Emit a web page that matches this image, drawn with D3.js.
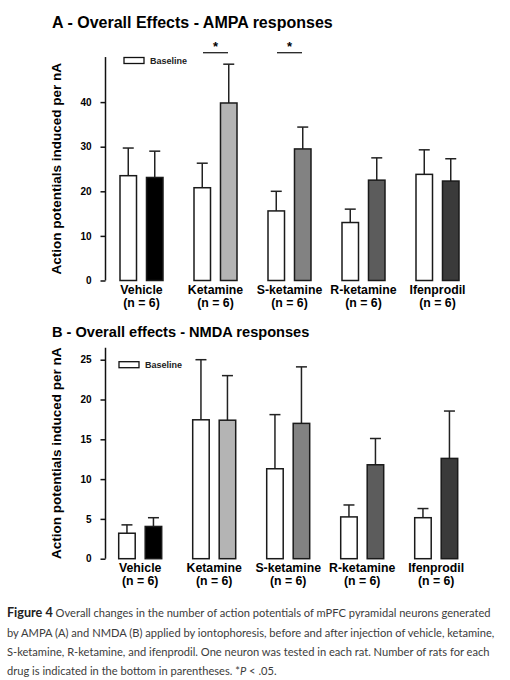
<!DOCTYPE html>
<html>
<head>
<meta charset="utf-8">
<script src="https://cdn.jsdelivr.net/npm/d3@7"></script>
<style>
  body { margin: 0; background: #fff; }
  svg text { font-family: "Liberation Sans", Arial, sans-serif; }
  .axis text { font-size: 10px; font-weight: bold; }
  .cap { font-family: Lato, "Noto Sans", sans-serif; fill: #3c3c3c; }
</style>
</head>
<body>
<div id="chart"></div>
<script>
// drug groups
var drugs = ["Vehicle", "Ketamine", "S-ketamine", "R-ketamine", "Ifenprodil"];
var nLabels = ["(n = 6)", "(n = 6)", "(n = 6)", "(n = 6)", "(n = 6)"];
var drugColors = ["#000000", "#b4b4b4", "#828282", "#5c5c5c", "#3a3a3a"];

// A - AMPA (mean, mean + error)
var ampaBase = [23.5, 20.8, 15.6, 13.0, 23.8];
var ampaBaseErr = [29.7, 26.3, 20.0, 16.0, 29.3];
var ampaDrug = [23.1, 39.8, 29.5, 22.5, 22.3];
var ampaDrugErr = [29.0, 48.5, 34.4, 27.5, 27.3];
var ampaTicks = [0, 10, 20, 30, 40];
var ampaSig = ["Ketamine", "S-ketamine"];

// B - NMDA
var nmdaBase = [3.2, 17.45, 11.3, 5.25, 5.15];
var nmdaBaseErr = [4.25, 25.0, 18.1, 6.75, 6.3];
var nmdaDrug = [4.05, 17.4, 17.0, 11.8, 12.6];
var nmdaDrugErr = [5.15, 23.0, 24.1, 15.1, 18.55];
var nmdaTicks = [0, 5, 10, 15, 20, 25];

var svg = d3.select("#chart").append("svg")
    .attr("width", 510)
    .attr("height", 680);

function panel(opt) {
    var g = svg.append("g");

    // title
    g.append("text")
        .attr("x", 52).attr("y", opt.titleY)
        .attr("font-size", opt.titleSize).attr("font-weight", "bold")
        .text(opt.title);

    // group step 74px, group width 43px
    var x = d3.scaleBand()
        .domain(drugs)
        .range([opt.x0, opt.x0 + 74 * 4 + 43])
        .paddingInner(31 / 74).paddingOuter(0);

    var y = d3.scaleLinear()
        .domain([0, opt.yMax])
        .range([opt.h, opt.h - opt.pxPerUnit * opt.yMax]);

    var inner = d3.scaleBand()
        .domain(["base", "drug"])
        .range([0, x.bandwidth()])
        .paddingInner(0.377);

    // y axis: line to the top, ticks only at labels
    g.append("line")
        .attr("x1", 105.5).attr("x2", 105.5)
        .attr("y1", y(0)).attr("y2", y(opt.yMax))
        .attr("stroke", "#111").attr("stroke-width", 1.5);

    var yAxis = d3.axisLeft(y).tickValues(opt.ticks).tickSize(5).tickPadding(9);
    g.append("g")
        .attr("class", "axis y")
        .attr("transform", "translate(105.5,0)")
        .call(yAxis)
        .call(function (a) {
            a.select(".domain").remove();
            a.selectAll("line").attr("stroke", "#111").attr("stroke-width", 1.5);
        });

    // y label
    g.append("text")
        .attr("transform", "translate(61," + (y(0) + y(opt.yMax)) / 2 + ") rotate(-90)")
        .attr("text-anchor", "middle")
        .attr("font-size", 13.5).attr("font-weight", "bold")
        .text("Action potentials induced per nA");

    // bars
    var rows = drugs.map(function (d, i) {
        return [
            { drug: d, key: "base", v: opt.base[i], e: opt.baseErr[i], fill: "#fff" },
            { drug: d, key: "drug", v: opt.drug[i], e: opt.drugErr[i], fill: drugColors[i] }
        ];
    });
    var flat = [].concat.apply([], rows);

    var bw = inner.bandwidth();
    var bar = g.selectAll(".bar").data(flat).enter().append("g").attr("class", "bar")
        .attr("transform", function (d) { return "translate(" + (x(d.drug) + inner(d.key)) + ",0)"; });

    // error bars (upper only)
    bar.append("line")
        .attr("x1", bw / 2).attr("x2", bw / 2)
        .attr("y1", function (d) { return y(d.v); })
        .attr("y2", function (d) { return y(d.e); })
        .attr("stroke", "#222").attr("stroke-width", 1.5);
    bar.append("line")
        .attr("x1", bw / 2 - 5.5).attr("x2", bw / 2 + 5.5)
        .attr("y1", function (d) { return y(d.e); })
        .attr("y2", function (d) { return y(d.e); })
        .attr("stroke", "#222").attr("stroke-width", 1.5);

    bar.append("rect")
        .attr("x", 0).attr("width", bw)
        .attr("y", function (d) { return y(d.v); })
        .attr("height", function (d) { return y(0) - y(d.v); })
        .attr("fill", function (d) { return d.fill; })
        .attr("stroke", "#1a1a1a").attr("stroke-width", 1.5);

    // category labels
    var lab = g.selectAll(".cat").data(drugs).enter().append("text")
        .attr("class", "cat")
        .attr("text-anchor", "middle")
        .attr("font-size", 12.3).attr("font-weight", "bold")
        .attr("x", function (d) { return x(d) + x.bandwidth() / 2; })
        .attr("y", y(0) + 13.5);
    lab.append("tspan").text(function (d) { return d; });
    lab.append("tspan")
        .attr("x", function (d) { return x(d) + x.bandwidth() / 2; })
        .attr("dy", 13.2)
        .text(function (d, i) { return nLabels[i]; });

    // legend
    g.append("rect")
        .attr("x", opt.legX).attr("y", opt.legY)
        .attr("width", 20).attr("height", 6)
        .attr("fill", "#fff").attr("stroke", "#111").attr("stroke-width", 1.3);
    g.append("text")
        .attr("x", opt.legX + 26).attr("y", opt.legY + 6)
        .attr("font-size", 9).attr("font-weight", "bold")
        .attr("fill", "#222")
        .text("Baseline");

    // significance markers
    (opt.sig || []).forEach(function (d) {
        var cx = x(d) + x.bandwidth() / 2;
        g.append("line")
            .attr("x1", cx - 12.5).attr("x2", cx + 12.5)
            .attr("y1", opt.sigY).attr("y2", opt.sigY)
            .attr("stroke", "#222").attr("stroke-width", 1.3);
        g.append("text")
            .attr("x", cx).attr("y", opt.sigY - 2)
            .attr("text-anchor", "middle")
            .attr("font-size", 13).attr("font-weight", "bold")
            .text("*");
    });
}

panel({
    titleY: 27.5, titleSize: 16, title: "A - Overall Effects - AMPA responses",
    h: 280.5, x0: 120, yMax: 50.1, pxPerUnit: 4.46,
    ticks: ampaTicks,
    base: ampaBase, baseErr: ampaBaseErr, drug: ampaDrug, drugErr: ampaDrugErr,
    legX: 124, legY: 57.5, sig: ampaSig, sigY: 52.7
});

panel({
    titleY: 336.5, titleSize: 14.6, title: "B - Overall effects - NMDA responses",
    h: 558.7, x0: 118.7, yMax: 26.5, pxPerUnit: 7.96,
    ticks: nmdaTicks,
    base: nmdaBase, baseErr: nmdaBaseErr, drug: nmdaDrug, drugErr: nmdaDrugErr,
    legX: 119, legY: 361.7, sig: [], sigY: 0
});

// caption
var capLines = [
    [["Figure 4", true], [" Overall changes in the number of action potentials of mPFC pyramidal neurons generated", false]],
    [["by AMPA (A) and NMDA (B) applied by iontophoresis, before and after injection of vehicle, ketamine,", false]],
    [["S-ketamine, R-ketamine, and ifenprodil. One neuron was tested in each rat. Number of rats for each", false]],
    [["drug is indicated in the bottom in parentheses. *", false], ["P", "i"], [" < .05.", false]]
];
var capY = [617, 636.5, 655.5, 674.5];
var capTexts = capLines.map(function (line, i) {
    var t = svg.append("text").attr("class", "cap").attr("x", 7).attr("y", capY[i])
        .attr("font-size", 12);
    line.forEach(function (s) {
        var sp = t.append("tspan").text(s[0]);
        if (s[1] === true) sp.attr("font-weight", "bold").attr("fill", "#222").attr("font-size", 13.6);
        if (s[1] === "i") sp.attr("font-style", "italic");
    });
    return t;
});
// fit the longest line (line 2) to the width of the figure text
var k = 488 / capTexts[1].node().getComputedTextLength();
capTexts.forEach(function (t) {
    t.attr("font-size", 12 * k);
    t.selectAll("tspan").filter(function () { return this.getAttribute("font-size"); })
        .attr("font-size", 13.6 * k);
});
</script>
</body>
</html>
